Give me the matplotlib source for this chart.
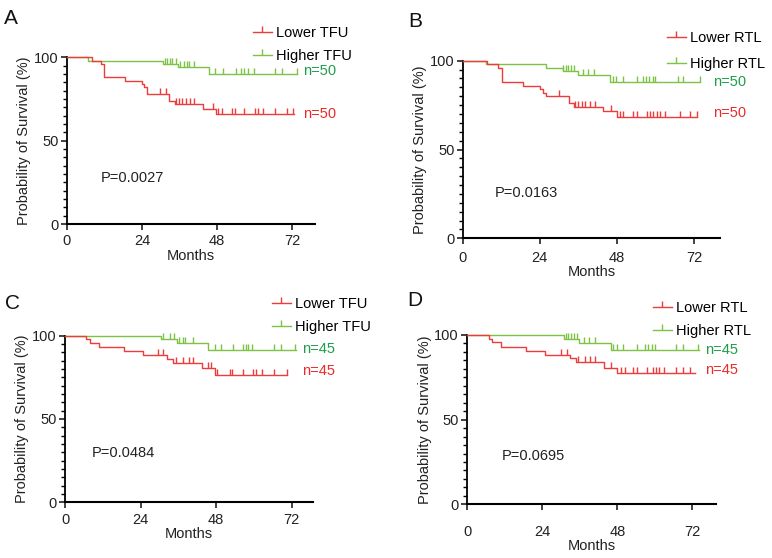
import numpy as np
import matplotlib.pyplot as plt
from matplotlib.lines import Line2D
from matplotlib.ticker import MultipleLocator

plt.rcParams['font.family'] = ['Liberation Sans', 'DejaVu Sans']

RED, GREEN = "#ef3b3b", "#7cc244"
RED_TXT, GREEN_TXT = "#ec2a2a", "#1f9e4a"
FS = 10.5

# ---------------- data (months, survival %) ----------------
# A: TFU, 50 per group
a_low_t = [0, 8.0, 10.8, 12.0, 18.6, 23.9, 24.7, 25.7, 32.8, 34.6, 43.4, 47.6]
a_low_s = [100, 98, 96, 88, 86, 84, 82, 78, 74, 72, 69, 66]
a_low_end = 72.6
a_low_cens = [29.8, 31.6, 34.8, 35.8, 36.9, 38.0, 39.3, 40.6, 46.6, 48.2, 49.5,
              52.6, 53.7, 56.6, 60.1, 61.2, 62.7, 66.5, 70.2, 72.3]
a_high_t = [0, 6.7, 30.8, 35.6, 45.5]
a_high_s = [100, 98, 96, 94, 90]
a_high_end = 73.4
a_high_cens = [31.4, 32.1, 33.0, 33.7, 34.9, 36.2, 37.4, 38.3, 39.1, 40.7,
               47.3, 49.8, 54.0, 55.5, 56.7, 58.0, 59.8, 66.5, 68.6, 73.4]

# B: RTL, 50 per group
b_low_t = [0, 7.5, 11.1, 12.1, 18.9, 24.1, 24.9, 25.9, 33.1, 34.8, 43.8, 47.9]
b_low_s = [100, 98, 96, 88, 86, 84, 82, 80, 76, 74, 71.5, 68.5]
b_low_end = 72.8
b_low_cens = [30.1, 35.0, 36.0, 37.1, 38.1, 39.6, 41.2, 46.1, 49.0, 50.0, 53.1,
              54.2, 57.3, 58.3, 59.3, 60.4, 61.4, 63.0, 67.6, 70.8, 72.8]
b_high_t = [0, 7.2, 25.9, 31.1, 36.0, 45.9]
b_high_s = [100, 98, 96, 94, 92, 88]
b_high_end = 73.9
b_high_cens = [31.3, 32.2, 32.9, 33.7, 34.8, 37.6, 38.9, 41.0, 46.7, 47.6, 50.0,
               54.2, 56.0, 57.1, 58.1, 59.2, 60.0, 66.9, 68.7, 73.9]

# C: TFU, 45 per group
c_low_t = [0, 6.7, 7.9, 10.9, 18.7, 24.7, 32.3, 34.4, 43.4, 47.6]
c_low_s = [100, 97.8, 95.6, 93.3, 91.0, 88.6, 86.1, 83.7, 80.6, 76.6]
c_low_end = 70.4
c_low_cens = [29.6, 31.2, 35.3, 37.6, 39.4, 40.6, 45.5, 46.3, 48.4, 52.4, 52.9,
              56.6, 59.8, 60.7, 62.5, 66.4, 70.4]
c_high_t = [0, 30.4, 35.5, 45.5]
c_high_s = [100, 97.8, 95.5, 91.3]
c_high_end = 73.4
c_high_cens = [31.2, 33.4, 34.6, 36.2, 37.4, 38.1, 40.8, 47.6, 49.6, 53.5,
               56.6, 57.4, 58.2, 59.5, 66.4, 68.5, 73.1]

# D: RTL, 45 per group
d_low_t = [0, 6.9, 7.8, 10.8, 18.8, 24.9, 32.9, 34.7, 43.8, 47.8]
d_low_s = [100, 97.8, 95.6, 93.1, 90.7, 88.2, 86.2, 83.9, 80.7, 77.4]
d_low_end = 72.9
d_low_cens = [29.9, 31.8, 35.5, 37.7, 39.3, 40.9, 45.9, 49.2, 50.5, 52.9, 54.2,
              57.4, 59.3, 60.3, 61.4, 62.9, 66.7, 69.1, 71.3]
d_high_t = [0, 30.9, 35.8, 45.9]
d_high_s = [100, 97.7, 95.5, 91.1]
d_high_end = 74.2
d_high_cens = [31.5, 32.3, 33.2, 34.1, 35.0, 37.4, 38.9, 40.9, 46.7, 47.8, 49.9,
               54.2, 56.9, 57.9, 59.0, 60.1, 66.7, 68.9, 73.9]

letters = ["A", "B", "C", "D"]
markers = ["TFU", "RTL", "TFU", "RTL"]
n_labels = ["n=50", "n=50", "n=45", "n=45"]
p_values = ["P=0.0027", "P=0.0163", "P=0.0484", "P=0.0695"]

series = [
    ((a_low_t, a_low_s, a_low_end, a_low_cens), (a_high_t, a_high_s, a_high_end, a_high_cens)),
    ((b_low_t, b_low_s, b_low_end, b_low_cens), (b_high_t, b_high_s, b_high_end, b_high_cens)),
    ((c_low_t, c_low_s, c_low_end, c_low_cens), (c_high_t, c_high_s, c_high_end, c_high_cens)),
    ((d_low_t, d_low_s, d_low_end, d_low_cens), (d_high_t, d_high_s, d_high_end, d_high_cens)),
]

# ---------------- layout (pixels in a 772x558 figure) ----------------
W, H = 772, 558
lay = [
    dict(left=66.7, bot=224.0, top=57.3, xmax=79.2, p72=225.6, tpad=3.0, xlp=1,
         letter=(4, 9), leg=(253, 26), lsp=0.62, nxy=((75.4, 92), (75.4, 66)), pxy=(10.8, 27.4)),
    dict(left=462.7, bot=238.3, top=60.7, xmax=80.1, p72=231.3, tpad=5.0, xlp=0,
         letter=(408, 12), leg=(667, 31), lsp=0.8, nxy=((78.0, 88.2), (78.0, 70.4)), pxy=(10.1, 25.3)),
    dict(left=65.0, bot=502.3, top=335.7, xmax=78.9, p72=226.7, tpad=3.5, xlp=0,
         letter=(5, 294), leg=(272, 297), lsp=0.62, nxy=((75.2, 92), (75.2, 78.8)), pxy=(8.5, 29.4)),
    dict(left=467.3, bot=504.3, top=335.0, xmax=79.6, p72=225.0, tpad=11.0, xlp=0,
         letter=(407, 291), leg=(653, 301), lsp=0.62, nxy=((76.1, 91.1), (76.1, 79.3)), pxy=(11.0, 28.5)),
]


def step_at(t, s, x):
    return s[np.searchsorted(t, x, side="right") - 1]


def km(ax, t, s, end, cens, color):
    ax.step(list(t) + [end], list(s) + [s[-1]], where="post", color=color,
            lw=1.0, clip_on=False, zorder=3)
    ax.plot(cens, [step_at(t, s, c) for c in cens], ls="none", marker=2,
            ms=4, mew=1.0, color=color, clip_on=False, zorder=3)


fig = plt.figure(figsize=(W / 100, H / 100), dpi=100)

for k in range(4):
    L = lay[k]
    width = L["xmax"] / 72 * L["p72"]
    ax = fig.add_axes([L["left"] / W, 1 - L["bot"] / H, width / W, (L["bot"] - L["top"]) / H])
    (lo, hi) = series[k]
    km(ax, *hi, GREEN)
    km(ax, *lo, RED)

    ax.set_xlim(0, L["xmax"])
    ax.set_ylim(0, 100)
    ax.set_xticks([0, 24, 48, 72])
    ax.set_yticks([0, 50, 100])
    ax.yaxis.set_minor_locator(MultipleLocator(5))
    for sp in ["top", "right"]:
        ax.spines[sp].set_visible(False)
    ax.spines["left"].set_linewidth(1.3)
    ax.spines["bottom"].set_linewidth(1.5)
    ax.tick_params(axis="both", which="major", length=4, width=1.2, labelsize=FS, colors="#222222")
    ax.tick_params(axis="y", which="minor", length=3, width=1.0)
    ax.tick_params(axis="y", which="major", pad=2)
    ax.tick_params(axis="x", which="major", pad=L["tpad"])
    ax.set_xlabel("Months", fontsize=FS, labelpad=L["xlp"], color="#222222")
    ax.set_ylabel("Probability of Survival (%)", fontsize=FS, labelpad=2, color="#222222")

    ax.text(L["pxy"][0], L["pxy"][1], p_values[k], fontsize=FS, va="center", color="#222222")
    ax.text(L["nxy"][0][0], L["nxy"][0][1], n_labels[k], fontsize=FS, va="center",
            color=GREEN_TXT, clip_on=False)
    ax.text(L["nxy"][1][0], L["nxy"][1][1], n_labels[k], fontsize=FS, va="center",
            color=RED_TXT, clip_on=False)

    handles = [Line2D([], [], color=RED, lw=1.0, marker=2, ms=4, mew=1.0),
               Line2D([], [], color=GREEN, lw=1.0, marker=2, ms=4, mew=1.0)]
    fig.legend(handles, ["Lower " + markers[k], "Higher " + markers[k]],
               loc="upper left", bbox_to_anchor=(L["leg"][0] / W, 1 - L["leg"][1] / H),
               frameon=False, fontsize=FS, borderpad=0, borderaxespad=0,
               handlelength=1.3, handletextpad=0.3, labelspacing=L["lsp"], numpoints=1)

    fig.text(L["letter"][0] / W, 1 - L["letter"][1] / H, letters[k], fontsize=15,
             ha="left", va="top", color="#111111")

fig.savefig("out.png", dpi=100)
